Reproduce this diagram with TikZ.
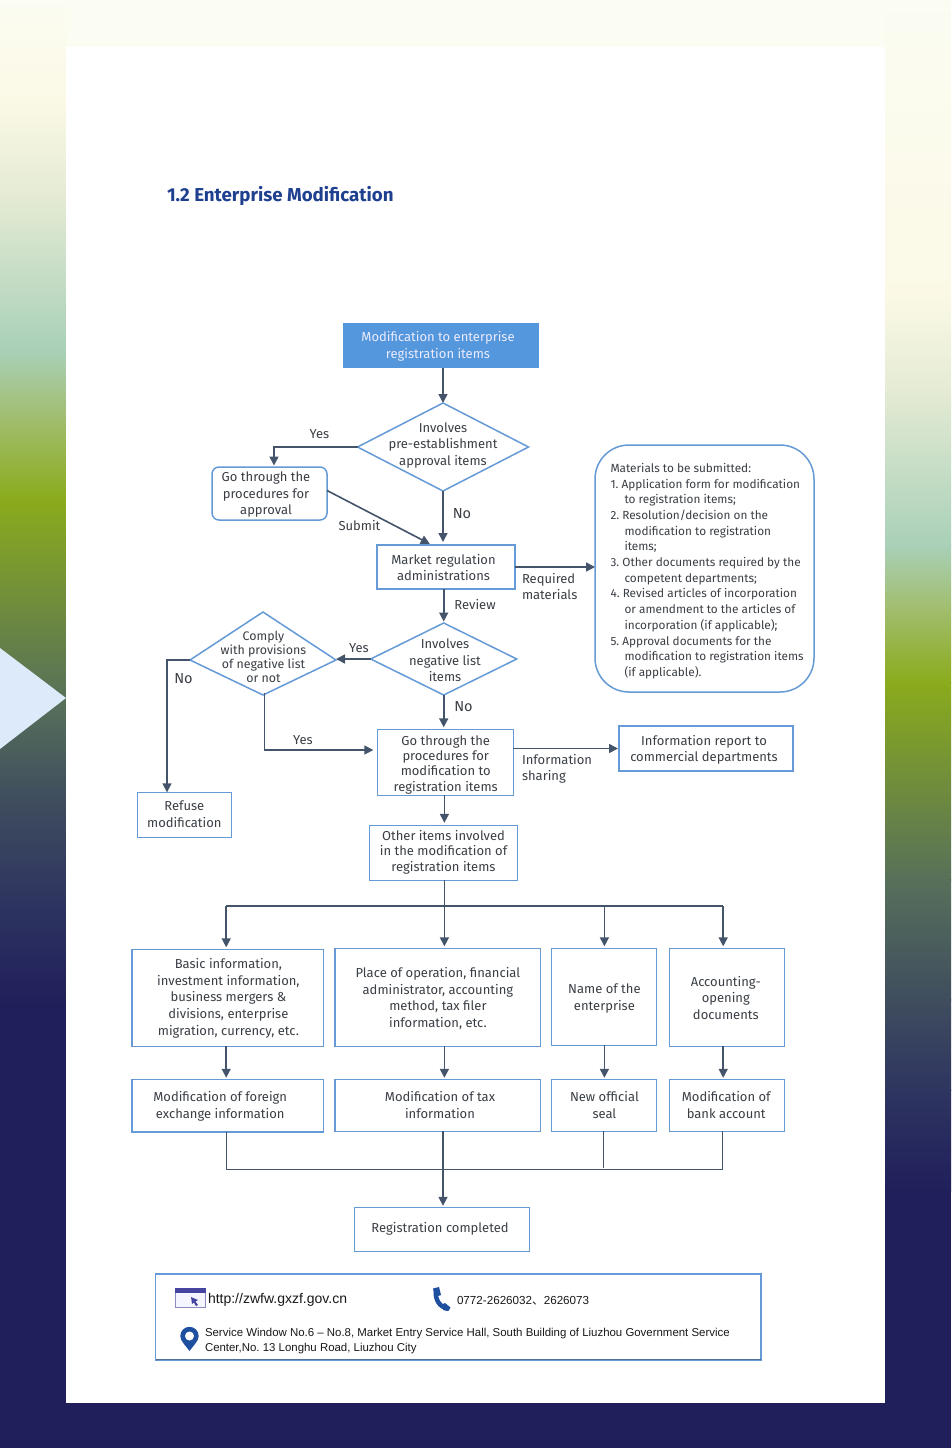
\documentclass[tikz,border=0pt]{standalone}
\usepackage{fontspec}
\setmainfont{Fira Sans}
\newfontfamily\libsans{Liberation Sans}
\newfontfamily\cjk{Noto Sans CJK SC}
\usetikzlibrary{arrows.meta,shapes.geometric}
\definecolor{bordc}{HTML}{659AD6}
\definecolor{linec}{HTML}{44546A}
\definecolor{textc}{HTML}{3A3F45}
\definecolor{navyc}{HTML}{201F5B}
\definecolor{iconc}{HTML}{1F4F9F}
\definecolor{titlec}{HTML}{1F3F8F}
\definecolor{startc}{HTML}{5597DC}
\definecolor{wedgec}{HTML}{DCEAF9}
\definecolor{ga}{HTML}{FBFCF2}
\definecolor{gb}{HTML}{FBF9E6}
\definecolor{gc}{HTML}{E3EAD3}
\definecolor{gd}{HTML}{A9D0B8}
\definecolor{ge}{HTML}{A1BD6C}
\definecolor{gf}{HTML}{8AAB1C}
\definecolor{gg}{HTML}{57705A}
\definecolor{gh}{HTML}{3F4D5E}
\definecolor{gi}{HTML}{2E3560}
\newcommand\fz[2]{\fontsize{#1}{#2}\selectfont}
% text block centred on the node centre, moved by (#1,#2) pixels, zero size
\newcommand\tx[3]{\makebox[0pt]{\kern#1pt\kern#1pt\smash{\raisebox{\dimexpr-#2pt-4.25pt\relax}{\begin{tabular}[c]{@{}c@{}}#3\end{tabular}}}}}
\newcommand\txl[3]{\makebox[0pt]{\kern#1pt\kern#1pt\smash{\raisebox{\dimexpr-#2pt-4.25pt\relax}{\begin{tabular}[c]{@{}l@{}}#3\end{tabular}}}}}
\frenchspacing
\tikzset{
  every node/.style={text=textc,inner sep=0pt,outer sep=0pt},
  boxn/.style={draw=bordc,line width=1.5pt,rectangle,fill=white,font=\fz{13}{16.5}},
  dia/.style={draw=bordc,line width=1.5pt,diamond,font=\fz{13}{16.5}},
  lab/.style={font=\fz{13}{16},anchor=base},
  labl/.style={font=\fz{13}{16},anchor=west,align=left},
  conn/.style={draw=linec,line width=1.6pt},
  arr/.style={conn,-{Triangle[width=9pt,length=9pt]}},
  thin conn/.style={draw=linec,line width=1.1pt},
}
\begin{document}
\begin{tikzpicture}[x=1pt,y=-1pt]
\useasboundingbox (0,0) rectangle (951,1448);
\fill[navyc] (0,0) rectangle (951,1448);
% side gradients
\foreach \ya/\ca/\yb/\cb in {0/ga/100/gb,100/gb/200/gc,200/gc/350/gd,350/gd/420/ge,420/ge/500/gf,500/gf/700/gg,700/gg/800/gh,800/gh/900/gi,900/gi/1006/navyc}{
  \fill[top color=\ca,bottom color=\cb,draw=none] (0,\ya-0.3) rectangle (66.5,\yb+0.3);
}
\foreach \ya/\ca/\yb/\cb in {0/ga/295/gb,295/gb/395/gc,395/gc/545/gd,545/gd/610/ge,610/ge/683/gf,683/gf/880/gg,880/gg/1000/gh,1000/gh/1090/gi,1090/gi/1191/navyc}{
  \fill[top color=\ca,bottom color=\cb,draw=none] (884.5,\ya-0.3) rectangle (951,\yb+0.3);
}
\fill[ga] (66,0) rectangle (885,47.5);
\fill[white] (66,47) rectangle (885,1403);
\fill[wedgec] (0,648) -- (66,698) -- (0,749) -- cycle;
% title
\node[font=\fz{18.7}{22}\bfseries,text=titlec,anchor=base west] (title) at (167,201) {1.2 Enterprise Modification};
% nodes
\node[boxn,draw=none,fill=startc,text=white!92!blue,minimum width=196pt,minimum height=45pt] (start) at (441,345.5) {\tx{-3}{0}{Modification to enterprise\\registration items}};
\node[dia,minimum width=171pt,minimum height=88pt] (d1) at (443,447) {\tx{0}{-2.8}{Involves\\pre-establishment\\approval items}};
\node[boxn,rounded corners=7pt,minimum width=115pt,minimum height=53pt] (appr) at (269.5,493.5) {\tx{-3.5}{0}{Go through the\\procedures for\\approval}};
\node[boxn,minimum width=138pt,minimum height=44pt] (mkt) at (446,567) {\tx{-2.5}{1}{Market regulation\\administrations}};
\node[boxn,rounded corners=34pt,minimum width=219pt,minimum height=247pt,font=\fz{11.8}{15.7}] (mat) at (704.5,568.5) {\txl{2.6}{1.5}{Materials to be submitted:\\1. Application form for modification\\\hspace*{14pt}to registration items;\\2. Resolution/decision on the\\\hspace*{14pt}modification to registration\\\hspace*{14pt}items;\\3. Other documents required by the\\\hspace*{14pt}competent departments;\\4. Revised articles of incorporation\\\hspace*{14pt}or amendment to the articles of\\\hspace*{14pt}incorporation (if applicable);\\5. Approval documents for the\\\hspace*{14pt}modification to registration items\\\hspace*{14pt}(if applicable).}};
\node[dia,minimum width=146pt,minimum height=72pt] (d2) at (443.7,659) {\tx{1.3}{1.5}{Involves\\negative list\\items}};
% the left diamond has its side corners below its middle
\coordinate (d3w) at (190,660);
\coordinate (d3n) at (263,612);
\coordinate (d3e) at (336,660);
\coordinate (d3s) at (263,695);
\draw[draw=bordc,line width=1.5pt] (d3w) -- (d3n) -- (d3e) -- (d3s) -- cycle;
\node[font=\fz{12.4}{14.1}] (d3) at (263.5,657) {\tx{0}{0.5}{Comply\\with provisions\\of negative list\\or not}};
\node[boxn,minimum width=136pt,minimum height=66pt,font=\fz{13}{15.3}] (go) at (445.3,762.3) {\tx{0.4}{1.7}{Go through the\\procedures for\\modification to\\registration items}};
\node[boxn,minimum width=174pt,minimum height=45pt] (info) at (706,748.5) {\tx{-2}{0.5}{Information report to\\commercial departments}};
\node[boxn,minimum width=94pt,minimum height=45pt] (refuse) at (184.3,814.8) {\tx{0}{-0.5}{Refuse\\modification}};
\node[boxn,minimum width=148.4pt,minimum height=55pt,font=\fz{13}{15.5}] (other) at (443.5,852.8) {\tx{0}{-1.3}{Other items involved\\in the modification of\\registration items}};
\node[boxn,minimum width=191.3pt,minimum height=97pt,font=\fz{13}{16.7}] (b1) at (227.8,997.8) {\tx{0.6}{-0.5}{Basic information,\\investment information,\\business mergers \&\\divisions, enterprise\\migration, currency, etc.}};
\node[boxn,minimum width=205.6pt,minimum height=98pt] (b2) at (437.8,997.3) {\tx{0.1}{0.7}{Place of operation, financial\\administrator, accounting\\method, tax filer\\information, etc.}};
\node[boxn,minimum width=104.9pt,minimum height=97pt] (b3) at (604,996.8) {\tx{0.4}{0.7}{Name of the\\enterprise}};
\node[boxn,minimum width=114.9pt,minimum height=98pt] (b4) at (726.8,997.3) {\tx{-1}{0.7}{Accounting-\\opening\\documents}};
\node[boxn,minimum width=191.3pt,minimum height=52.7pt] (c1) at (227.8,1105.6) {\tx{-7.6}{-0.4}{Modification of foreign\\exchange information}};
\node[boxn,minimum width=205.6pt,minimum height=52pt] (c2) at (437.8,1105.3) {\tx{2.2}{0}{Modification of tax\\information}};
\node[boxn,minimum width=104.9pt,minimum height=52pt] (c3) at (604,1105.3) {\tx{0.4}{0}{New official\\seal}};
\node[boxn,minimum width=114.9pt,minimum height=52pt] (c4) at (726.8,1105.3) {\tx{-0.6}{0}{Modification of\\bank account}};
\node[boxn,minimum width=174.8pt,minimum height=44pt] (reg) at (442,1229.3) {\tx{-2}{-1}{Registration completed}};
% junctions
\coordinate (j1) at (226.2,906);
\coordinate (j2) at (444.4,906);
\coordinate (j3) at (604.4,906);
\coordinate (j4) at (723.2,906);
\coordinate (k1) at (226.2,1169.5);
\coordinate (k2) at (443,1169.5);
\coordinate (k3) at (603.5,1169.5);
\coordinate (k4) at (722.4,1169.5);
\coordinate (yes1) at (274,447);
\coordinate (no3) at (167,660);
\coordinate (yes3) at (264.5,750);
% connectors
\draw[arr] (start.south -| d1.north) -- (d1.north);
\draw[arr,shorten >=1.5pt] (d1.west) -- (yes1) -- (yes1 |- appr.north);
\draw[arr,shorten >=3pt] (d1.south) -- (d1.south |- mkt.north);
\draw[arr,shorten >=2.5pt] (appr.3.5) -- ([xshift=-14pt]mkt.north);
\draw[arr] (mkt.east) -- (mkt.east -| mat.west);
\draw[arr,shorten >=1.5pt] (mkt.south -| d2.north) -- (d2.north);
\draw[arr] (d2.west) -- (d2.west -| d3e);
\draw[arr] (d3w) -- (no3) -- (no3 |- refuse.north);
\draw[arr,shorten >=4pt] ([xshift=1.5pt,yshift=2pt]d3s) -- (yes3) -- (yes3 -| go.west);
\draw[arr,shorten >=2pt] (d2.south) -- (d2.south |- go.north);
\draw[arr,shorten >=1pt] (go.east |- info.center) -- (info.west);
\draw[arr,shorten >=2.5pt] (go.south -| j2) -- (j2 |- other.north);
\draw[conn] (j2 |- other.south) -- (j2);
\draw[conn] (j1) -- (j4);
\foreach \j/\b/\c in {j1/b1/c1,j2/b2/c2,j3/b3/c3,j4/b4/c4}{
  \draw[arr,shorten >=2pt] (\j) -- (\j |- \b.north);
  \draw[arr,shorten >=1.5pt] (\j |- \b.south) -- (\j |- \c.north);
}
\draw[thin conn] (k1 |- c1.south) -- (k1) -- (k4) -- (k4 |- c4.south);
\draw[line width=0.8pt,draw=linec] (k3 |- c3.south) -- ([yshift=1.5pt]k3);
\draw[arr,shorten >=1.5pt] (k2 |- c2.south) -- (k2 |- reg.north);
% labels
\node[lab] (lyes1) at (319.5,438) {Yes};
\node[lab,font=\fz{14.5}{16}] (lno1) at (462,518) {No};
\node[lab] (lsub) at (359.5,530) {Submit};
\node[lab] (lrev) at (475,609) {Review};
\node[labl] (lreq) at (522,587) {Required\\materials};
\node[lab] (lyes2) at (359,652) {Yes};
\node[lab,font=\fz{14.5}{16}] (lno2) at (183.5,683) {No};
\node[lab,font=\fz{14.5}{16}] (lno3) at (463.5,711) {No};
\node[lab] (lyes3) at (303,744) {Yes};
\node[labl] (lshare) at (522,769) {Information\\sharing};
% contact box
\node[draw=bordc,line width=1.5pt,rectangle,minimum width=605.5pt,minimum height=86pt] (contact) at (458.25,1317) {};
\draw[draw=linec!60!bordc,line width=0.8pt] ([yshift=1pt]contact.south west) -- ([yshift=1pt]contact.south east);
% browser icon
\fill[blue!4!white,draw=blue!30!gray!70!white,line width=1pt] (175.5,1288.5) rectangle (205,1307.5);
\fill[blue!40!gray!90!black] (175,1288) rectangle (205.5,1292.5);
\fill[blue!40!gray!90!black] (191,1297) -- (198,1300) -- (195.5,1301.5) -- (198,1305) -- (196,1306) -- (193.8,1302.5) -- (192,1304) -- cycle;
% phone icon
\draw[iconc,line width=4.5pt,line cap=round] (435.8,1291) .. controls (435,1300) and (440,1307) .. (447.5,1308.5);
\fill[iconc] (433,1288.5) -- (439,1287) -- (441,1295) -- (435,1297) -- cycle;
\fill[iconc] (443,1304) -- (445,1303) -- (450.5,1307.5) -- (448,1311) -- (443,1310) -- cycle;
% pin icon
\fill[iconc] (180.3,1336) arc[start angle=180,end angle=360,radius=9.2] .. controls (198.7,1341) and (193,1346) .. (189.5,1351) .. controls (186,1346) and (180.3,1341) .. (180.3,1336) -- cycle;
\fill[white] (189.5,1336) circle[radius=4.5];
% contact texts
\node[font=\libsans\fz{14}{16},anchor=base west,text=black!90] (url) at (208,1303) {http://zwfw.gxzf.gov.cn};
\node[font=\libsans\fz{11.65}{14},anchor=base west,text=black!90] (tel) at (457,1304) {0772-2626032{\cjk 、}2626073};
\node[font=\libsans\fz{11.43}{15},anchor=west,align=left,text=black!90] (addr) at (205,1341) {Service Window No.6 – No.8, Market Entry Service Hall, South Building of Liuzhou Government Service\\Center,No. 13 Longhu Road, Liuzhou City};
\end{tikzpicture}
\end{document}
